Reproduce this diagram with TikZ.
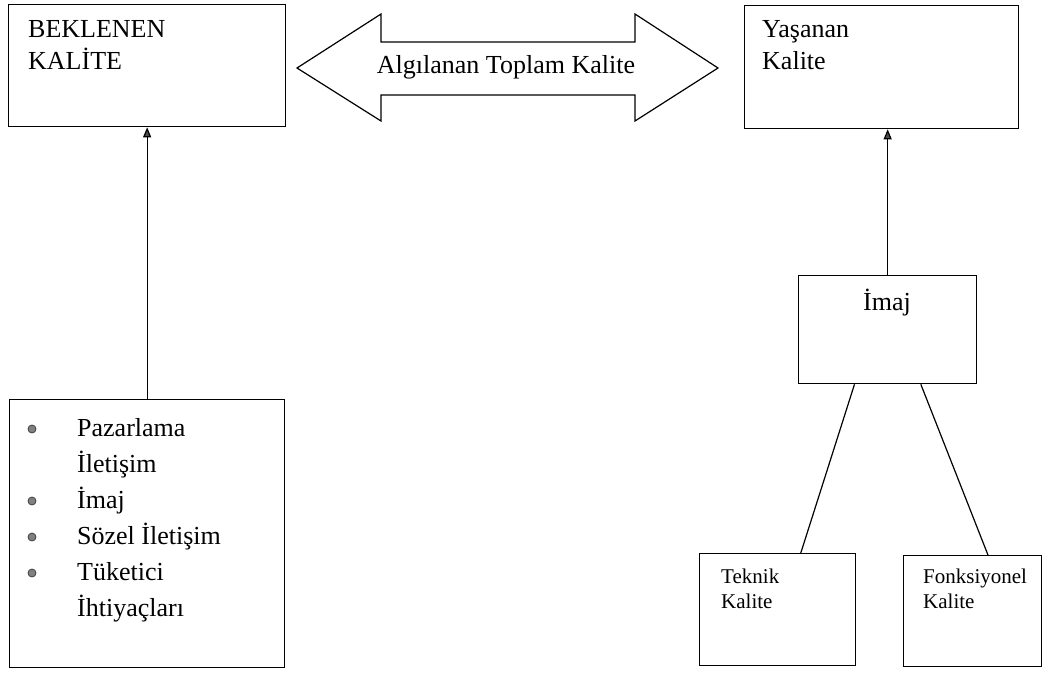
\documentclass[tikz,border=0pt]{standalone}
\usepackage{fontspec}
\setmainfont{Liberation Serif}
\usetikzlibrary{arrows.meta,calc}
\begin{document}
\begin{tikzpicture}[x=1pt,y=-1pt,
  box/.style={draw,line width=1.3pt,inner sep=0pt,anchor=north west},
  big/.style={font=\fontsize{26}{30}\selectfont,inner sep=0pt,anchor=base west},
  small/.style={font=\fontsize{21}{25}\selectfont,inner sep=0pt,anchor=base west},
  conn/.style={line width=1.2pt},
  arr/.style={line width=1.2pt,-{Triangle[width=8pt,length=10pt,fill=black!70]}},
  bul/.style={circle,fill=black!50,draw=black!75,line width=0.8pt,minimum size=8pt,inner sep=0pt},
]
\useasboundingbox (0,0) rectangle (1043,681);

% boxes
\node[box,minimum width=277pt,minimum height=122pt] (bek) at (8,4) {};
\node[box,minimum width=274pt,minimum height=123pt] (yas) at (744,5) {};
\node[box,minimum width=275pt,minimum height=268pt] (list) at (9,399) {};
\node[box,minimum width=178pt,minimum height=108pt] (imaj) at (798,275) {};
\node[box,minimum width=156pt,minimum height=112pt] (tek) at (699,553) {};
\node[box,minimum width=138pt,minimum height=111pt] (fonk) at (903,555) {};

% box texts
\node[big] (bek1) at (28,37) {BEKLENEN};
\node[big] (bek2) at (28,69) {KALİTE};
\node[big] (yas1) at (762,37) {Yaşanan};
\node[big] (yas2) at (762,69) {Kalite};
\node[big,anchor=base] (imajt) at (887,310) {İmaj};
\node[small] (tek1) at (721,583) {Teknik};
\node[small] (tek2) at (721,608) {Kalite};
\node[small] (fonk1) at (923,583) {Fonksiyonel};
\node[small] (fonk2) at (923,608) {Kalite};

% list
\node[bul] (b1) at (32,429) {};
\node[bul] (b2) at (32,501) {};
\node[bul] (b3) at (32,537) {};
\node[bul] (b4) at (32,573) {};
\node[big] (l1) at (77,436) {Pazarlama};
\node[big] (l2) at (77,472) {İletişim};
\node[big] (l3) at (77,508) {İmaj};
\node[big] (l4) at (77,544) {Sözel İletişim};
\node[big] (l5) at (77,580) {Tüketici};
\node[big] (l6) at (77,616) {İhtiyaçları};

% double arrow
\draw[conn,line join=miter] (297,68) -- (381,14) -- (381,42) -- (635,42) -- (635,14)
  -- (718,68) -- (635,121) -- (635,95) -- (381,95) -- (381,121) -- cycle;
\node[big,anchor=base] (atk) at (506,73) {Algılanan Toplam Kalite};

% connectors
\draw[arr] (list.north) -- (bek.south);
\draw[arr] (imaj.north) -- (imaj.north |- yas.south);
\draw[conn] ($(imaj.south west)!0.315!(imaj.south east)$) -- ($(tek.north west)!0.647!(tek.north east)$);
\draw[conn] ($(imaj.south west)!0.685!(imaj.south east)$) -- ($(fonk.north west)!0.61!(fonk.north east)$);
\end{tikzpicture}
\end{document}
